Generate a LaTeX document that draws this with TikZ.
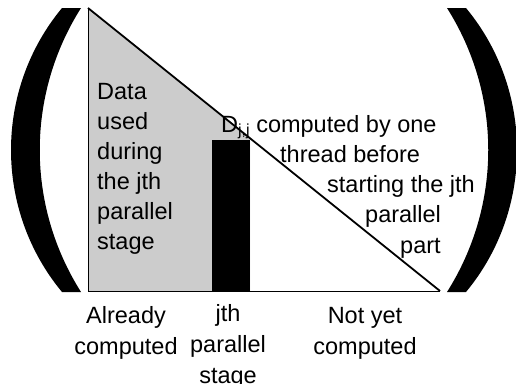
\documentclass[tikz,border=0pt]{standalone}
\usepackage{fontspec}
\setmainfont{Liberation Sans}
\usetikzlibrary{positioning,calc}
\definecolor{usedgray}{RGB}{204,204,204}
\newcommand{\jjsub}{\raisebox{-3pt}{\fontsize{16}{16}\selectfont j,j}}

\begin{document}
\begin{tikzpicture}[x=1pt, y=-1pt, font=\fontsize{23.5}{30}\selectfont,
    txt/.style={inner sep=0pt},
    label/.style={inner sep=0pt, align=center, anchor=base}]
    \useasboundingbox (0,0) rectangle (516,383);

    % corners of the triangle
    \coordinate (top) at (88,8);
    \coordinate (bl) at (88,291);
    \coordinate (br) at (440,291);
    \coordinate (cut) at ($(top)!{162/352}!(br)$);

    % regions
    \fill[usedgray] (top) -- (cut) -- (cut |- bl) -- (bl) -- cycle;
    \fill[black] (212,140) rectangle (cut |- bl);
    \draw[line width=1pt] (top) -- (bl) -- (br);
    \draw[line width=1.8pt] (top) -- (br);

    % big brackets
    \fill (62,8) .. controls (-6,90) and (-6,210) .. (62,292) -- (81,292)
        .. controls (26,205) and (26,95) .. (81,8) -- cycle;
    \fill (466,8) .. controls (534,90) and (534,210) .. (466,292) -- (447,292)
        .. controls (502,205) and (502,95) .. (447,8) -- cycle;

    % base of a multi-line node is its last line
    \node[txt, anchor=base west, align=left] (used) at (97,249)
        {Data\\used\\during\\the jth\\parallel\\stage};

    \node[txt, anchor=base west] (line1) at (221,132) {D\jjsub\ computed by one};
    \node[txt, anchor=base west] (line2) at (280,162) {thread before};
    \node[txt, anchor=base west] (line3) at (327,192) {starting the jth};
    \node[txt, anchor=base west] (line4) at (365,222) {parallel};
    \node[txt, anchor=base west] (line5) at (400,253) {part};

    \node[label] (done) at (126,354) {Already\\[1pt]computed};
    \node[label] (stage) at (228,383) {jth\\[1pt]parallel\\[1pt]stage};
    \node[label] (todo) at (365,354) {Not yet\\[1pt]computed};
\end{tikzpicture}
\end{document}
